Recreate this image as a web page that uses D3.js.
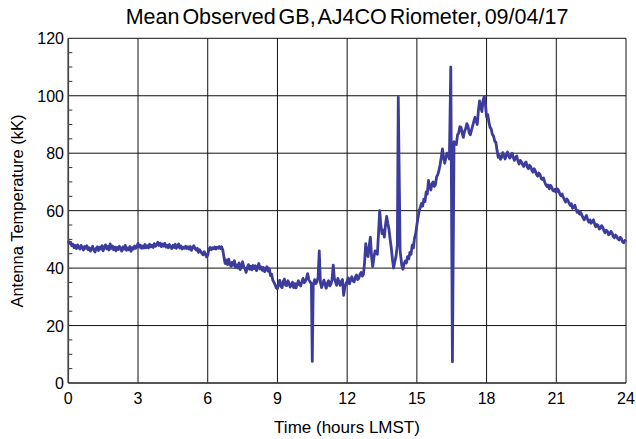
<!DOCTYPE html>
<html><head><meta charset="utf-8">
<script src="https://cdn.jsdelivr.net/npm/d3@7"></script>
<style>body{margin:0;background:#fff}svg{display:block}text{font-family:"Liberation Sans",Arial,sans-serif;fill:#000}</style>
</head><body>
<svg id="c" width="636" height="439"></svg>
<script>
const titleText = "Mean Observed GB, AJ4CO Riometer, 09/04/17";
const xLabel = "Time (hours LMST)";
const yLabel = "Antenna Temperature (kK)";
const xTicks = [0,3,6,9,12,15,18,21,24];
const yTicks = [0,20,40,60,80,100,120];
const yMinorTicks = [5,10,15,25,30,35,45,50,55,65,70,75,85,90,95,105,110,115];
// [hour LMST, antenna temperature kK]
const series = [
[0.00,49.5],[0.05,48.6],[0.10,49.0],[0.15,47.8],[0.20,48.3],[0.25,47.1],[0.30,47.9],[0.35,46.8],[0.40,48.1],[0.45,47.3],
[0.50,46.6],[0.55,47.9],[0.60,47.2],[0.65,46.3],[0.70,47.5],[0.75,46.9],[0.80,47.8],[0.85,46.4],[0.90,47.1],[0.95,45.9],
[1.00,46.8],[1.05,47.6],[1.10,46.2],[1.15,45.6],[1.20,46.9],[1.25,47.4],[1.30,46.1],[1.35,47.3],[1.40,46.6],[1.45,47.8],
[1.50,46.0],[1.55,47.2],[1.60,48.1],[1.65,46.7],[1.70,47.5],[1.75,46.3],[1.80,48.4],[1.85,46.9],[1.90,47.7],[1.95,46.4],
[2.00,47.3],[2.05,46.0],[2.10,47.2],[2.15,46.5],[2.20,47.6],[2.25,46.8],[2.30,45.9],[2.35,47.4],[2.40,46.6],[2.45,47.9],
[2.50,46.2],[2.55,47.0],[2.60,46.4],[2.65,47.5],[2.70,45.8],[2.75,47.1],[2.80,46.6],[2.85,47.7],[2.90,46.9],[2.95,47.4],
[3.00,48.6],[3.05,47.3],[3.10,48.0],[3.15,46.9],[3.20,47.7],[3.25,47.0],[3.30,48.2],[3.35,47.1],[3.40,47.8],[3.45,47.0],
[3.50,48.3],[3.55,47.4],[3.60,48.0],[3.65,47.2],[3.70,48.5],[3.75,47.6],[3.80,48.1],[3.85,49.0],[3.90,47.9],[3.95,48.7],
[4.00,47.5],[4.05,48.4],[4.10,47.7],[4.15,48.6],[4.20,47.3],[4.25,48.0],[4.30,47.1],[4.35,48.2],[4.40,47.4],[4.45,46.8],
[4.50,47.9],[4.55,47.2],[4.60,48.3],[4.65,46.9],[4.70,47.6],[4.75,48.4],[4.80,47.0],[4.85,47.7],[4.90,46.7],[4.95,47.3],
[5.00,46.9],[5.05,47.6],[5.10,46.8],[5.15,47.4],[5.20,46.6],[5.25,47.5],[5.30,46.2],[5.35,47.0],[5.40,47.8],[5.45,46.9],
[5.50,46.3],[5.55,46.9],[5.60,45.5],[5.65,46.4],[5.70,45.8],[5.75,45.1],[5.80,44.6],[5.85,45.7],[5.90,44.9],[5.95,43.9],
[6.00,44.5],[6.05,46.6],[6.10,47.2],[6.15,46.4],[6.20,47.1],[6.25,46.7],[6.30,47.4],[6.35,46.6],[6.40,47.3],[6.45,46.9],
[6.50,47.5],[6.55,46.8],[6.60,47.4],[6.65,46.2],[6.70,43.8],[6.75,41.6],[6.80,42.8],[6.85,41.2],[6.90,43.1],[6.95,41.7],
[7.00,40.6],[7.05,42.0],[7.10,41.0],[7.15,42.6],[7.20,40.2],[7.25,41.1],[7.30,40.0],[7.35,41.8],[7.40,39.5],[7.45,40.6],
[7.50,42.2],[7.55,40.4],[7.60,39.9],[7.65,38.5],[7.70,40.1],[7.75,41.2],[7.80,39.6],[7.85,40.7],[7.90,39.4],[7.95,40.9],
[8.00,39.8],[8.05,40.8],[8.10,39.1],[8.15,40.3],[8.20,41.6],[8.25,39.7],[8.30,40.4],[8.35,39.2],[8.40,40.2],[8.45,38.8],
[8.50,39.6],[8.55,40.5],[8.60,38.9],[8.65,39.8],[8.70,37.4],[8.75,37.9],[8.80,35.8],[8.85,35.0],[8.90,34.2],[8.95,33.1],
[9.00,32.8],[9.05,34.9],[9.10,35.8],[9.15,33.6],[9.20,33.2],[9.25,35.4],[9.30,36.2],[9.35,34.0],[9.40,33.9],[9.45,35.6],
[9.50,34.8],[9.55,33.4],[9.60,34.0],[9.65,35.1],[9.70,33.2],[9.75,34.6],[9.80,33.1],[9.85,34.4],[9.90,35.6],[9.95,34.2],
[10.00,33.8],[10.05,35.2],[10.10,36.4],[10.15,34.9],[10.20,35.3],[10.25,36.5],[10.30,38.1],[10.35,36.0],[10.40,35.3],[10.46,34.6],
[10.50,7.5],[10.54,34.0],[10.60,36.0],[10.65,34.6],[10.70,35.2],[10.75,36.8],[10.80,46.0],[10.85,35.0],[10.90,33.2],[10.95,34.6],
[11.00,35.8],[11.05,34.2],[11.10,33.0],[11.15,34.8],[11.20,35.6],[11.25,33.8],[11.30,34.4],[11.35,36.0],[11.40,41.0],[11.45,36.4],
[11.50,35.2],[11.55,34.0],[11.60,36.4],[11.65,35.2],[11.70,34.0],[11.75,35.4],[11.80,36.0],[11.85,30.5],[11.90,33.2],[11.95,34.6],
[12.00,35.4],[12.05,36.6],[12.10,34.5],[12.15,35.8],[12.20,37.0],[12.25,35.6],[12.30,35.2],[12.35,36.8],[12.40,37.6],[12.45,36.0],
[12.50,36.4],[12.55,37.8],[12.60,38.5],[12.65,37.2],[12.70,37.8],[12.75,42.0],[12.80,48.5],[12.85,45.2],[12.90,44.0],[12.95,47.8],
[13.00,50.8],[13.05,44.0],[13.10,40.5],[13.15,43.6],[13.20,46.0],[13.25,45.4],[13.30,44.8],[13.35,52.0],[13.40,60.0],[13.45,55.0],
[13.50,52.0],[13.55,53.2],[13.60,50.8],[13.65,55.0],[13.70,58.0],[13.75,55.6],[13.80,53.5],[13.85,50.0],[13.90,47.0],[13.95,43.0],
[14.00,40.0],[14.05,42.2],[14.10,44.0],[14.16,48.0],[14.20,99.5],[14.28,46.0],[14.35,41.0],[14.40,39.6],[14.45,41.5],[14.50,42.5],
[14.55,41.8],[14.60,44.0],[14.65,43.2],[14.70,45.5],[14.75,44.8],[14.80,48.0],[14.85,47.0],[14.90,50.5],[14.95,52.0],[15.00,55.0],
[15.05,57.5],[15.10,60.0],[15.15,61.2],[15.20,62.5],[15.25,61.6],[15.30,64.0],[15.35,63.2],[15.40,66.5],[15.45,65.8],[15.50,70.5],
[15.55,68.0],[15.60,67.2],[15.65,69.4],[15.70,70.0],[15.75,68.4],[15.80,69.0],[15.85,71.8],[15.90,72.5],[15.95,74.0],[16.00,76.0],
[16.05,78.5],[16.10,81.5],[16.15,78.4],[16.20,76.5],[16.25,78.6],[16.30,80.0],[16.35,79.2],[16.40,78.0],[16.46,110.0],[16.53,7.4],
[16.60,84.0],[16.65,83.4],[16.70,83.0],[16.75,86.4],[16.80,87.0],[16.85,89.2],[16.90,89.0],[16.95,87.0],[17.00,85.5],[17.05,87.6],
[17.10,88.5],[17.15,90.3],[17.20,89.5],[17.25,87.2],[17.30,86.4],[17.35,88.0],[17.40,89.5],[17.45,91.0],[17.50,92.5],[17.55,91.2],
[17.60,90.0],[17.65,95.0],[17.70,98.2],[17.75,96.0],[17.80,94.5],[17.85,98.5],[17.90,99.8],[17.95,97.0],
[18.00,92.6],[18.05,93.5],[18.10,90.8],[18.15,89.0],[18.20,88.4],[18.25,86.5],[18.30,86.0],[18.35,84.2],[18.40,83.8],[18.45,81.0],
[18.50,78.6],[18.55,79.2],[18.60,77.9],[18.65,78.6],[18.70,80.2],[18.75,79.0],[18.80,78.0],[18.85,79.4],[18.90,80.4],[18.95,79.1],
[19.00,78.3],[19.05,79.2],[19.10,80.0],[19.15,78.4],[19.20,77.5],[19.25,78.6],[19.30,79.0],[19.35,77.3],[19.40,76.2],[19.45,77.5],
[19.50,77.0],[19.55,76.0],[19.60,75.4],[19.65,76.5],[19.70,76.9],[19.75,75.2],[19.80,74.6],[19.85,75.8],[19.90,75.3],[19.95,74.0],
[20.00,73.4],[20.05,74.6],[20.10,73.8],[20.15,72.6],[20.20,72.0],[20.25,73.1],[20.30,72.6],[20.35,71.2],[20.40,70.8],[20.45,71.4],
[20.50,70.0],[20.55,69.0],[20.60,68.4],[20.65,68.9],[20.70,67.6],[20.75,68.8],[20.80,68.2],[20.85,67.1],[20.90,66.8],[20.95,67.5],
[21.00,66.4],[21.05,67.6],[21.10,67.0],[21.15,65.9],[21.20,65.2],[21.25,65.8],[21.30,64.6],[21.35,63.8],[21.40,63.0],[21.45,64.1],
[21.50,63.6],[21.55,62.6],[21.60,61.8],[21.65,62.4],[21.70,60.8],[21.75,61.2],[21.80,61.9],[21.85,60.4],[21.90,59.4],[21.95,60.0],
[22.00,58.8],[22.05,59.4],[22.10,58.4],[22.15,57.6],[22.20,56.8],[22.25,57.6],[22.30,58.3],[22.35,56.9],[22.40,56.0],[22.45,56.8],
[22.50,55.6],[22.55,56.2],[22.60,56.8],[22.65,55.4],[22.70,54.4],[22.75,55.2],[22.80,54.8],[22.85,53.6],[22.90,53.9],[22.95,54.8],
[23.00,54.2],[23.05,53.0],[23.10,52.3],[23.15,53.2],[23.20,52.8],[23.25,51.6],[23.30,51.9],[23.35,52.8],[23.40,52.2],[23.45,51.0],
[23.50,50.6],[23.55,51.5],[23.60,51.0],[23.65,50.2],[23.70,49.8],[23.75,50.7],[23.80,50.3],[23.85,49.2],[23.90,48.8],[23.95,49.6],
[24.00,49.3]
];

const svg = d3.select("#c");
const m = {l:68.3, r:626, t:38.3, b:383};
const x = d3.scaleLinear().domain([0,24]).range([m.l, m.r]);
const y = d3.scaleLinear().domain([0,120]).range([m.b, m.t]);

const g = svg.append("g");
// grid
g.selectAll("line.gx").data(xTicks).join("line")
  .attr("x1", d=>x(d)).attr("x2", d=>x(d)).attr("y1", y(0)).attr("y2", y(120))
  .attr("stroke", "#111").attr("stroke-width", 1);
g.selectAll("line.gy").data(yTicks).join("line")
  .attr("y1", d=>y(d)).attr("y2", d=>y(d)).attr("x1", x(0)).attr("x2", x(24))
  .attr("stroke", "#111").attr("stroke-width", 1);
// minor ticks
g.selectAll("line.mt").data(yMinorTicks).join("line")
  .attr("y1", d=>y(d)).attr("y2", d=>y(d)).attr("x1", x(0)).attr("x2", x(0)+4)
  .attr("stroke", "#333").attr("stroke-width", 1);
// axes lines (left & bottom)
g.append("line").attr("x1", x(0)).attr("x2", x(0)).attr("y1", y(0)).attr("y2", y(120)).attr("stroke","#444").attr("stroke-width",1.6);
g.append("line").attr("x1", x(0)).attr("x2", x(24)).attr("y1", y(0)).attr("y2", y(0)).attr("stroke","#444").attr("stroke-width",1.6);

// tick labels
g.selectAll("text.xt").data(xTicks).join("text")
  .attr("x", d=>x(d)).attr("y", 404).attr("text-anchor","middle").attr("font-size","16px").text(d=>d);
g.selectAll("text.yt").data(yTicks).join("text")
  .attr("x", 64).attr("y", d=>y(d)+6).attr("text-anchor","end").attr("font-size","16px").text(d=>d);

// line
const line = d3.line().x(d=>x(d[0])).y(d=>y(d[1]));
g.append("path").datum(series).attr("d", line).attr("fill","none")
  .attr("stroke","#3c3c9c").attr("stroke-width",2.8).attr("stroke-linejoin","round");

// labels
svg.append("text").attr("x", 347).attr("y", 24).attr("text-anchor","middle")
  .attr("font-size","21.5px").attr("word-spacing","-3px").text(titleText);
svg.append("text").attr("x", 347).attr("y", 433).attr("text-anchor","middle")
  .attr("font-size","17px").text(xLabel);
svg.append("text").attr("transform","translate(23,211) rotate(-90)").attr("text-anchor","middle")
  .attr("font-size","16.5px").text(yLabel);
</script>
</body></html>
